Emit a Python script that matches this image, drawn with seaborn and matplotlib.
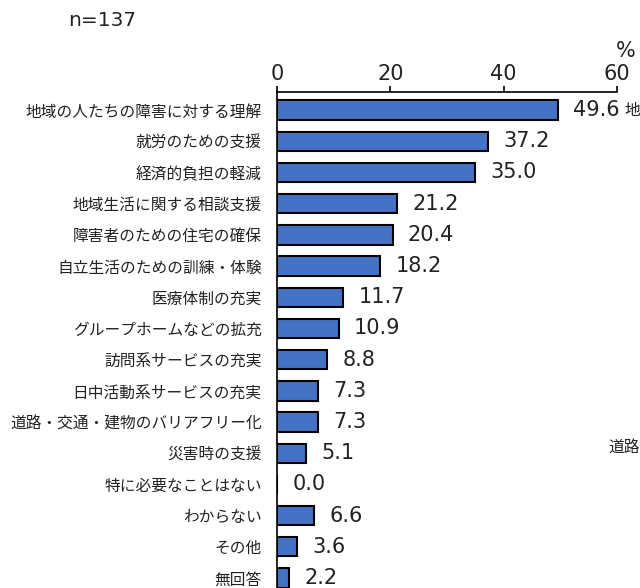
import matplotlib
matplotlib.use("Agg")
import matplotlib.pyplot as plt
import seaborn as sns
import pandas as pd

categories = [
    "地域の人たちの障害に対する理解",
    "就労のための支援",
    "経済的負担の軽減",
    "地域生活に関する相談支援",
    "障害者のための住宅の確保",
    "自立生活のための訓練・体験",
    "医療体制の充実",
    "グループホームなどの拡充",
    "訪問系サービスの充実",
    "日中活動系サービスの充実",
    "道路・交通・建物のバリアフリー化",
    "災害時の支援",
    "特に必要なことはない",
    "わからない",
    "その他",
    "無回答",
]
values = [49.6, 37.2, 35.0, 21.2, 20.4, 18.2, 11.7, 10.9, 8.8, 7.3, 7.3, 5.1, 0.0, 6.6, 3.6, 2.2]
x_ticks = [0, 20, 40, 60]

sns.set_theme(style="white")
plt.rcParams['font.family'] = ['Noto Sans CJK JP', 'DejaVu Sans']

df = pd.DataFrame({"cat": categories, "val": values})

fig = plt.figure(figsize=(6.4, 5.88), dpi=100)
ax = fig.add_axes([277/640, 0.0, 340/640, 1 - 92/588])

sns.barplot(data=df, x="val", y="cat", orient="h", color="#4472C4",
            edgecolor="black", linewidth=1.5, width=0.62, saturation=1, ax=ax)

ax.set_xlim(0, 60)
ax.set_ylim(15.32, -0.58)
ax.xaxis.tick_top()
ax.set_xticks(x_ticks)
ax.set_xticklabels([str(t) for t in x_ticks], fontsize=15, family=['DejaVu Sans'], color="#222222")
ax.tick_params(axis="x", direction="out", length=4, width=1.2, color="black", pad=2, top=True, bottom=False)
ax.tick_params(axis="y", length=0, labelsize=11.3, pad=11, labelcolor="#222222")
ax.set_xlabel("")
ax.set_ylabel("")
for s in ["right", "bottom"]:
    ax.spines[s].set_visible(False)
for s in ["top", "left"]:
    ax.spines[s].set_color("black")
    ax.spines[s].set_linewidth(1.2)

for i, v in enumerate(values):
    ax.annotate(f"{v:.1f}", xy=(v, i), xytext=(11, 0), textcoords="offset points",
                ha="left", va="center", fontsize=15, color="#222222",
                family=['DejaVu Sans'], annotation_clip=False)

fig.text(68/640, 1 - 21/588, "n=137", fontsize=14.5, va="center", ha="left", family=['DejaVu Sans'], color="#222222")
fig.text(626/640, 1 - 51/588, "%", fontsize=15, va="center", ha="center", family=['DejaVu Sans'], color="#222222")
fig.text(624/640, 1 - 110/588, "地", fontsize=11.3, va="center", ha="left", color="#222222")
fig.text(608/640, 1 - 447/588, "道路", fontsize=11.3, va="center", ha="left", color="#222222")

fig.savefig("out.png", dpi=100)
